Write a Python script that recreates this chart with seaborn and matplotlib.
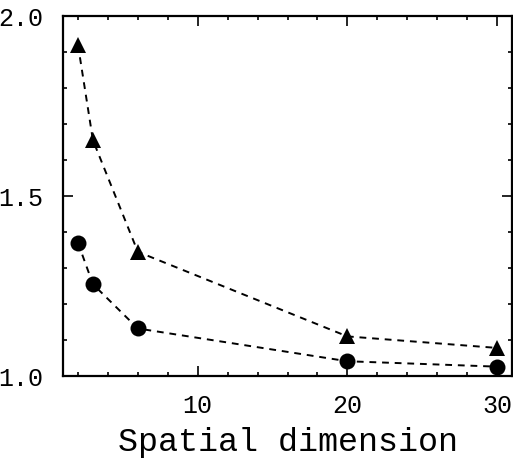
import matplotlib
matplotlib.use("Agg")
import matplotlib.pyplot as plt
from matplotlib.ticker import MultipleLocator
import seaborn as sns
import pandas as pd

# data
dimension = [2, 3, 6, 20, 30]
triangle_vals = [1.92, 1.655, 1.345, 1.11, 1.078]
circle_vals = [1.37, 1.255, 1.132, 1.041, 1.026]
x_ticks = [10, 20, 30]
y_ticks = [1.0, 1.5, 2.0]
x_label = "Spatial dimension"

sns.set_theme(style="white")
plt.rcParams['font.family'] = ['Liberation Mono', 'DejaVu Sans Mono']

df_tri = pd.DataFrame({"x": dimension, "y": triangle_vals})
df_cir = pd.DataFrame({"x": dimension, "y": circle_vals})

fig = plt.figure(figsize=(5.13, 4.60), dpi=100)
ax = fig.add_axes([63 / 513, 1 - 377 / 460, (512 - 63) / 513, (377 - 17) / 460])

line_kw = dict(color="black", linewidth=1.4, linestyle=(0, (3.5, 3)), markeredgewidth=0)
sns.lineplot(data=df_tri, x="x", y="y", marker="^", markersize=12, ax=ax, **line_kw)
sns.lineplot(data=df_cir, x="x", y="y", marker="o", markersize=11.5, ax=ax, **line_kw)

ax.set_xlim(1, 31)
ax.set_ylim(1.0, 2.0)
ax.set_xticks(x_ticks)
ax.set_xticklabels([str(t) for t in x_ticks])
ax.set_yticks(y_ticks)
ax.set_yticklabels([f"{t:.1f}" for t in y_ticks])
ax.xaxis.set_minor_locator(MultipleLocator(2))
ax.yaxis.set_minor_locator(MultipleLocator(0.1))

for s in ax.spines.values():
    s.set_visible(True)
    s.set_color("black")
    s.set_linewidth(1.6)

ax.tick_params(which="both", direction="in", top=True, right=True, bottom=True, left=True,
               color="black", width=1.2)
ax.tick_params(which="major", length=7, labelsize=18, pad=12, labelcolor="black")
ax.tick_params(axis="y", which="major", pad=14)
ax.tick_params(which="minor", length=3)

ax.set_xlabel(x_label, fontsize=24, color="black", labelpad=7)
ax.set_ylabel("")
ax.grid(False)

fig.savefig("out.png", dpi=100, facecolor="white")
